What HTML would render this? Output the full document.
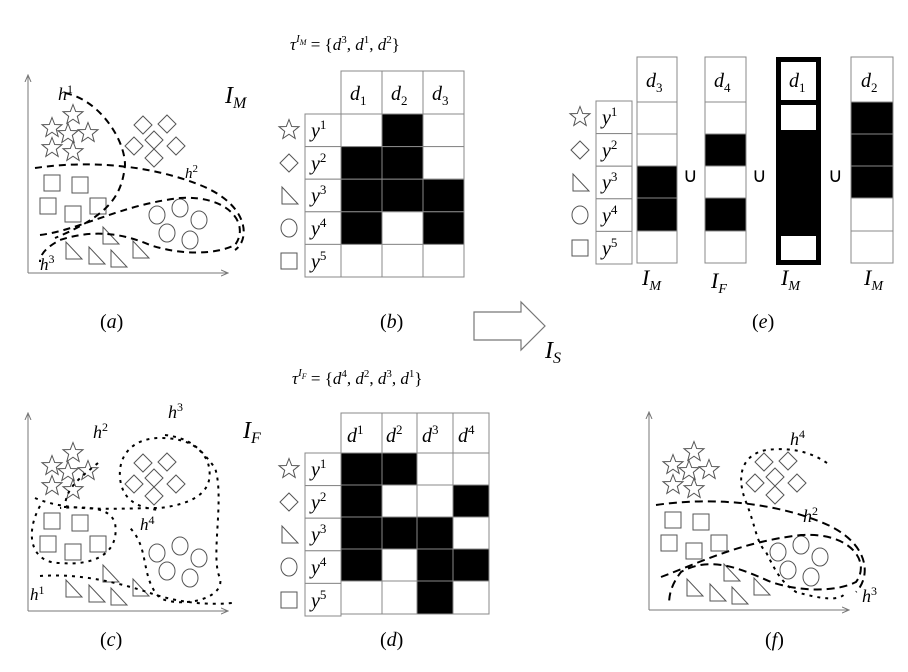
<!DOCTYPE html>
<html><head><meta charset="utf-8"><style>
html,body{margin:0;padding:0;background:#fff;}
svg{display:block;}
text{font-family:"Liberation Serif",serif;font-style:italic;fill:#000;}
.n{font-style:normal;}
</style></head><body>
<svg width="908" height="672" viewBox="0 0 908 672" xmlns="http://www.w3.org/2000/svg">
<defs>
<marker id="ar" markerWidth="8" markerHeight="8" refX="7" refY="4" orient="auto"><path d="M0,1 L7,4 L0,7" fill="none" stroke="#777" stroke-width="1"/></marker>
<polygon id="star" points="0,-10.5 2.7,-3.5 10,-3.3 4.3,1.3 6.2,8.5 0,4.2 -6.2,8.5 -4.3,1.3 -10,-3.3 -2.7,-3.5" fill="#fff" stroke="#555" stroke-width="1"/>
<polygon id="dia" points="0,-9 9,0 0,9 -9,0" fill="#fff" stroke="#555" stroke-width="1"/>
<rect id="sq" x="-8" y="-8" width="16" height="16" fill="#fff" stroke="#555" stroke-width="1"/>
<polygon id="tri" points="-7,-9 -7,8 9,8" fill="#fff" stroke="#555" stroke-width="1"/>
<ellipse id="cir" rx="8" ry="9" fill="#fff" stroke="#555" stroke-width="1"/>
<g id="pts">
<use href="#star" x="52" y="128"/><use href="#star" x="73" y="115"/><use href="#star" x="68" y="134"/><use href="#star" x="88" y="133"/><use href="#star" x="52" y="148"/><use href="#star" x="73" y="152"/>
<use href="#dia" x="143" y="125"/><use href="#dia" x="167" y="124"/><use href="#dia" x="134" y="146"/><use href="#dia" x="154" y="140"/><use href="#dia" x="176" y="146"/><use href="#dia" x="154" y="158"/>
<use href="#sq" x="52" y="183"/><use href="#sq" x="80" y="185"/><use href="#sq" x="48" y="206"/><use href="#sq" x="73" y="214"/><use href="#sq" x="98" y="206"/>
<use href="#cir" x="157" y="215"/><use href="#cir" x="180" y="208"/><use href="#cir" x="199" y="220"/><use href="#cir" x="167" y="233"/><use href="#cir" x="190" y="240"/>
<use href="#tri" x="73" y="251"/><use href="#tri" x="96" y="256"/><use href="#tri" x="118" y="259"/><use href="#tri" x="110" y="236"/><use href="#tri" x="140" y="250"/>
</g>
</defs>

<!-- Panel a -->
<line x1="28" y1="273" x2="28" y2="75" stroke="#777" marker-end="url(#ar)"/>
<line x1="28" y1="273" x2="228" y2="273" stroke="#777" marker-end="url(#ar)"/>
<use href="#pts"/>
<g fill="none" stroke="#000" stroke-width="2" stroke-dasharray="7,5">
<path d="M65,93 C100,100 125,140 125,165 C122,195 110,215 55,238"/>
<path d="M35,168 C90,160 150,165 200,185 C250,205 250,240 235,250"/>
<path d="M40,235 C80,230 120,205 180,198 C230,195 250,225 235,245 C215,255 180,255 150,245 C120,232 90,230 60,240 C45,248 40,255 40,262"/>
</g>
<text x="58" y="100" font-size="18">h<tspan dy="-7" font-size="12" class="n">1</tspan></text>
<text x="185" y="178" font-size="15">h<tspan dy="-6" font-size="11" class="n">2</tspan></text>
<text x="40" y="270" font-size="17">h<tspan dy="-7" font-size="12" class="n">3</tspan></text>
<text x="225" y="103" font-size="24">I<tspan dy="5" font-size="16">M</tspan></text>
<text x="100" y="328" font-size="20" class="n">(<tspan font-style="italic">a</tspan>)</text>

<!-- Panel c -->
<g transform="translate(0,338)">
<line x1="28" y1="273" x2="28" y2="75" stroke="#777" marker-end="url(#ar)"/>
<line x1="28" y1="273" x2="228" y2="273" stroke="#777" marker-end="url(#ar)"/>
<use href="#pts"/>
<g fill="none" stroke="#000" stroke-width="2" stroke-dasharray="3,5">
<path d="M98,125 C80,140 65,150 65,170"/>
<path d="M35,160 C70,175 120,170 160,170 C200,165 215,150 208,125 C200,105 180,100 160,100 C135,100 118,115 120,140 C122,160 135,170 160,172"/>
<path d="M165,97 C190,100 200,110 215,130 C225,160 210,220 220,240 C225,262 180,270 160,260 C140,240 150,210 130,190"/>
<path d="M40,168 C25,195 30,225 60,225 C95,228 120,215 115,185 C110,170 90,168 60,170"/>
<path d="M40,238 C80,235 120,245 150,255 C170,262 200,268 232,265"/>
</g>
<text x="93" y="100" font-size="18">h<tspan dy="-7" font-size="12" class="n">2</tspan></text>
<text x="168" y="80" font-size="18">h<tspan dy="-7" font-size="12" class="n">3</tspan></text>
<text x="140" y="192" font-size="17">h<tspan dy="-6" font-size="12" class="n">4</tspan></text>
<text x="30" y="262" font-size="17">h<tspan dy="-6" font-size="12" class="n">1</tspan></text>
</g>
<text x="243" y="438" font-size="24">I<tspan dy="5" font-size="16">F</tspan></text>
<text x="100" y="646" font-size="20" class="n">(<tspan font-style="italic">c</tspan>)</text>

<!-- Panel f -->
<g transform="translate(621,337)">
<line x1="28" y1="273" x2="28" y2="75" stroke="#777" marker-end="url(#ar)"/>
<line x1="28" y1="273" x2="228" y2="273" stroke="#777" marker-end="url(#ar)"/>
<use href="#pts"/>
<g fill="none" stroke="#000" stroke-width="2">
<path stroke-dasharray="3,5" d="M206,126 C190,115 170,110 145,113 C120,118 115,140 125,165 C135,190 135,205 145,215 C155,235 160,245 175,255 C200,262 220,265 225,255"/>
<path stroke-dasharray="8,5" d="M35,168 C90,160 150,165 200,185 C250,205 250,240 235,255"/>
<path stroke-dasharray="8,5" d="M40,240 C80,225 120,205 180,198 C230,195 250,225 235,245 C215,255 180,255 150,245 C120,232 90,218 60,235 C50,248 48,258 48,268"/>
</g>
<text x="169" y="108" font-size="18">h<tspan dy="-7" font-size="12" class="n">4</tspan></text>
<text x="182" y="185" font-size="18">h<tspan dy="-7" font-size="12" class="n">2</tspan></text>
<text x="241" y="265" font-size="18">h<tspan dy="-7" font-size="12" class="n">3</tspan></text>
</g>
<text x="765" y="646" font-size="20" class="n">(<tspan font-style="italic">f</tspan>)</text>

<!-- Table b -->
<text x="290" y="50" font-size="17">τ<tspan dy="-8" font-size="11">I</tspan><tspan dy="3" font-size="8">M</tspan><tspan dy="5" class="n" font-size="17"> = {</tspan><tspan>d</tspan><tspan dy="-7" font-size="11" class="n">3</tspan><tspan dy="7" class="n">, </tspan><tspan>d</tspan><tspan dy="-7" font-size="11" class="n">1</tspan><tspan dy="7" class="n">, </tspan><tspan>d</tspan><tspan dy="-7" font-size="11" class="n">2</tspan><tspan dy="7" class="n">}</tspan></text>
<g stroke="#888" stroke-width="1" fill="#fff">
<rect x="341" y="71" width="41" height="43"/><rect x="382" y="71" width="41" height="43"/><rect x="423" y="71" width="41" height="43"/>
</g>
<g font-size="20"><text x="350" y="100">d<tspan dy="5" font-size="13" class="n">1</tspan></text><text x="391" y="100">d<tspan dy="5" font-size="13" class="n">2</tspan></text><text x="432" y="100">d<tspan dy="5" font-size="13" class="n">3</tspan></text></g>
<g id="ylab">
<g stroke="#888" fill="#fff"><rect x="305" y="114" width="36" height="32.6"/><rect x="305" y="146.6" width="36" height="32.6"/><rect x="305" y="179.2" width="36" height="32.6"/><rect x="305" y="211.8" width="36" height="32.6"/><rect x="305" y="244.4" width="36" height="32.6"/></g>
<g font-size="20"><text x="311" y="137">y<tspan dy="-8" font-size="13" class="n">1</tspan></text><text x="311" y="170">y<tspan dy="-8" font-size="13" class="n">2</tspan></text><text x="311" y="202">y<tspan dy="-8" font-size="13" class="n">3</tspan></text><text x="311" y="235">y<tspan dy="-8" font-size="13" class="n">4</tspan></text><text x="311" y="268">y<tspan dy="-8" font-size="13" class="n">5</tspan></text></g>
<g transform="translate(289,130)"><use href="#star"/></g>
<g transform="translate(289,163)"><use href="#dia"/></g>
<g transform="translate(289,196)"><use href="#tri"/></g>
<g transform="translate(289,228)"><use href="#cir"/></g>
<g transform="translate(289,261)"><use href="#sq"/></g>
</g>
<g stroke="#888" fill="#fff">
<rect x="341" y="114" width="41" height="32.6"/><rect x="382" y="114" width="41" height="32.6" fill="#000"/><rect x="423" y="114" width="41" height="32.6"/>
<rect x="341" y="146.6" width="41" height="32.6" fill="#000"/><rect x="382" y="146.6" width="41" height="32.6" fill="#000"/><rect x="423" y="146.6" width="41" height="32.6"/>
<rect x="341" y="179.2" width="41" height="32.6" fill="#000"/><rect x="382" y="179.2" width="41" height="32.6" fill="#000"/><rect x="423" y="179.2" width="41" height="32.6" fill="#000"/>
<rect x="341" y="211.8" width="41" height="32.6" fill="#000"/><rect x="382" y="211.8" width="41" height="32.6"/><rect x="423" y="211.8" width="41" height="32.6" fill="#000"/>
<rect x="341" y="244.4" width="41" height="32.6"/><rect x="382" y="244.4" width="41" height="32.6"/><rect x="423" y="244.4" width="41" height="32.6"/>
</g>
<text x="380" y="328" font-size="20" class="n">(<tspan font-style="italic">b</tspan>)</text>

<!-- Table d -->
<text x="292" y="384" font-size="17">τ<tspan dy="-8" font-size="11">I</tspan><tspan dy="3" font-size="8">F</tspan><tspan dy="5" class="n" font-size="17"> = {</tspan><tspan>d</tspan><tspan dy="-7" font-size="11" class="n">4</tspan><tspan dy="7" class="n">, </tspan><tspan>d</tspan><tspan dy="-7" font-size="11" class="n">2</tspan><tspan dy="7" class="n">, </tspan><tspan>d</tspan><tspan dy="-7" font-size="11" class="n">3</tspan><tspan dy="7" class="n">, </tspan><tspan>d</tspan><tspan dy="-7" font-size="11" class="n">1</tspan><tspan dy="7" class="n">}</tspan></text>
<g stroke="#888" fill="#fff">
<rect x="341" y="413" width="41" height="40"/><rect x="382" y="413" width="35" height="40"/><rect x="417" y="413" width="36" height="40"/><rect x="453" y="413" width="36" height="40"/>
</g>
<g font-size="20"><text x="347" y="442">d<tspan dy="-8" font-size="13" class="n">1</tspan></text><text x="386" y="442">d<tspan dy="-8" font-size="13" class="n">2</tspan></text><text x="422" y="442">d<tspan dy="-8" font-size="13" class="n">3</tspan></text><text x="458" y="442">d<tspan dy="-8" font-size="13" class="n">4</tspan></text></g>
<g transform="translate(0,339)"><use href="#ylab"/></g>
<g stroke="#888" fill="#fff">
<rect x="341" y="453" width="41" height="32" fill="#000"/><rect x="382" y="453" width="35" height="32" fill="#000"/><rect x="417" y="453" width="36" height="32"/><rect x="453" y="453" width="36" height="32"/>
<rect x="341" y="485" width="41" height="32" fill="#000"/><rect x="382" y="485" width="35" height="32"/><rect x="417" y="485" width="36" height="32"/><rect x="453" y="485" width="36" height="32" fill="#000"/>
<rect x="341" y="517" width="41" height="32" fill="#000"/><rect x="382" y="517" width="35" height="32" fill="#000"/><rect x="417" y="517" width="36" height="32" fill="#000"/><rect x="453" y="517" width="36" height="32"/>
<rect x="341" y="549" width="41" height="32" fill="#000"/><rect x="382" y="549" width="35" height="32"/><rect x="417" y="549" width="36" height="32" fill="#000"/><rect x="453" y="549" width="36" height="32" fill="#000"/>
<rect x="341" y="581" width="41" height="33"/><rect x="382" y="581" width="35" height="33"/><rect x="417" y="581" width="36" height="33" fill="#000"/><rect x="453" y="581" width="36" height="33"/>
</g>
<text x="380" y="646" font-size="20" class="n">(<tspan font-style="italic">d</tspan>)</text>

<!-- Arrow -->
<polygon points="474,312 521,312 521,302 545,326 521,350 521,340 474,340" fill="#fff" stroke="#777" stroke-width="1.2"/>
<text x="545" y="358" font-size="24">I<tspan dy="5" font-size="16">S</tspan></text>

<!-- Panel e -->
<g transform="translate(291,-13)"><use href="#ylab"/></g>
<g stroke="#888" fill="#fff">
<rect x="637" y="57" width="40" height="45"/>
<rect x="637" y="102" width="40" height="32"/><rect x="637" y="134" width="40" height="32"/><rect x="637" y="166" width="40" height="32" fill="#000"/><rect x="637" y="198" width="40" height="33" fill="#000"/><rect x="637" y="231" width="40" height="32"/>
<rect x="705" y="57" width="41" height="45"/>
<rect x="705" y="102" width="41" height="32"/><rect x="705" y="134" width="41" height="32" fill="#000"/><rect x="705" y="166" width="41" height="32"/><rect x="705" y="198" width="41" height="33" fill="#000"/><rect x="705" y="231" width="41" height="32"/>
<rect x="851" y="57" width="42" height="45"/>
<rect x="851" y="102" width="42" height="32" fill="#000"/><rect x="851" y="134" width="42" height="32" fill="#000"/><rect x="851" y="166" width="42" height="32" fill="#000"/><rect x="851" y="198" width="42" height="33"/><rect x="851" y="231" width="42" height="32"/>
</g>
<rect x="778" y="59" width="41" height="204" fill="#000" stroke="#000" stroke-width="4"/>
<rect x="781" y="62" width="35" height="38" fill="#fff"/>
<rect x="781" y="105" width="35" height="25" fill="#fff"/>
<rect x="781" y="236" width="35" height="24" fill="#fff"/>
<g font-size="20"><text x="646" y="87">d<tspan dy="5" font-size="13" class="n">3</tspan></text><text x="714" y="87">d<tspan dy="5" font-size="13" class="n">4</tspan></text><text x="789" y="87">d<tspan dy="5" font-size="13" class="n">1</tspan></text><text x="861" y="87">d<tspan dy="5" font-size="13" class="n">2</tspan></text></g>
<g font-size="20" class="n"><text x="683" y="182" class="n">∪</text><text x="752" y="182" class="n">∪</text><text x="828" y="182" class="n">∪</text></g>
<g font-size="22"><text x="642" y="285">I<tspan dy="5" font-size="14">M</tspan></text><text x="711" y="288">I<tspan dy="5" font-size="14">F</tspan></text><text x="781" y="285">I<tspan dy="5" font-size="14">M</tspan></text><text x="864" y="285">I<tspan dy="5" font-size="14">M</tspan></text></g>
<text x="752" y="328" font-size="20" class="n">(<tspan font-style="italic">e</tspan>)</text>
</svg>
</body></html>
